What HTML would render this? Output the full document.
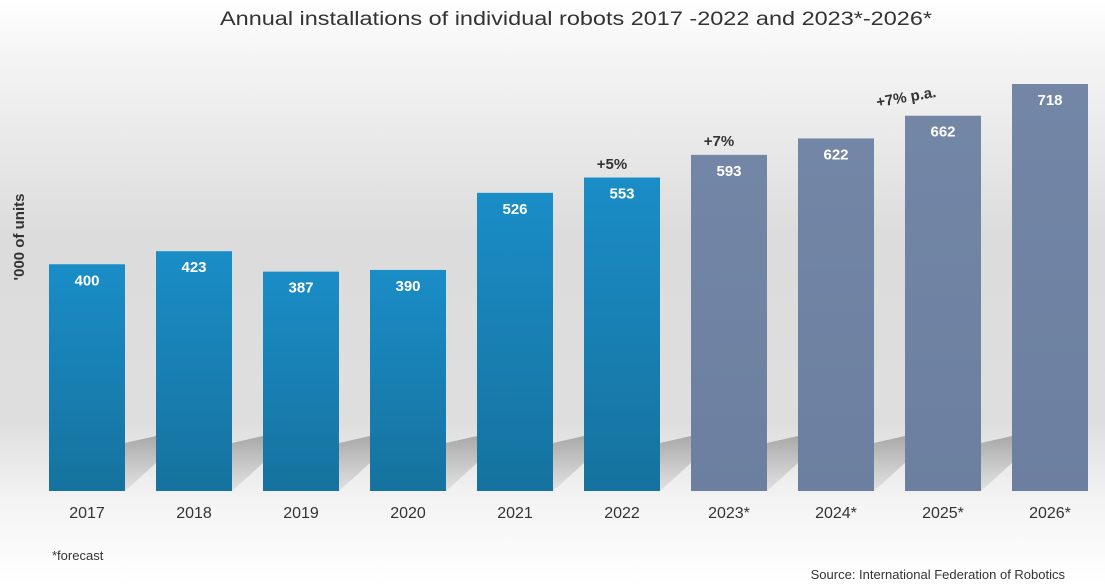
<!DOCTYPE html>
<html><head><meta charset="utf-8"><style>
body{margin:0;width:1105px;height:585px;overflow:hidden;font-family:"Liberation Sans",sans-serif}
svg{display:block}
</style></head><body>
<svg id="chart" width="1105" height="585" viewBox="0 0 1105 585">
<defs>
<linearGradient id="bg" x1="0" y1="0" x2="0" y2="1">
<stop offset="0" stop-color="#ffffff"/><stop offset="0.08" stop-color="#f6f6f6"/><stop offset="0.4" stop-color="#dcdcdc"/><stop offset="0.72" stop-color="#dedede"/><stop offset="0.86" stop-color="#f4f4f4"/><stop offset="1" stop-color="#ffffff"/>
</linearGradient>
<linearGradient id="blue" x1="0" y1="0" x2="0" y2="1"><stop offset="0" stop-color="#1a8dc7"/><stop offset="1" stop-color="#16729e"/></linearGradient>
<linearGradient id="grey" x1="0" y1="0" x2="0" y2="1"><stop offset="0" stop-color="#7386a6"/><stop offset="1" stop-color="#6c7fa0"/></linearGradient>
<linearGradient id="sh" x1="0" y1="0" x2="0" y2="1"><stop offset="0" stop-color="#999" stop-opacity="0.8"/><stop offset="1" stop-color="#bbb" stop-opacity="0.3"/></linearGradient>
</defs>
<rect x="0" y="0" width="1105" height="585" fill="url(#bg)"/>
<text x="576" y="25" text-anchor="middle" font-size="19" fill="#333" textLength="712" lengthAdjust="spacingAndGlyphs">Annual installations of individual robots 2017 -2022 and 2023*-2026*</text>
<text transform="translate(24,237) rotate(-90)" text-anchor="middle" font-size="15" font-weight="bold" fill="#333">'000 of units</text>
<g id="shadows"></g>
<g id="bars"></g>
<text x="612" y="169" text-anchor="middle" font-size="15" font-weight="bold" fill="#333">+5%</text>
<text x="719" y="146" text-anchor="middle" font-size="15" font-weight="bold" fill="#333">+7%</text>
<text transform="translate(907,102) rotate(-10)" text-anchor="middle" font-size="15" font-weight="bold" fill="#333">+7% p.a.</text>
<text x="52" y="560" font-size="13" fill="#333">*forecast</text>
<text x="1065" y="579" text-anchor="end" font-size="13" fill="#333">Source: International Federation of Robotics</text>
</svg>
<script>
const categories=["2017","2018","2019","2020","2021","2022","2023*","2024*","2025*","2026*"];
const values=[400,423,387,390,526,553,593,622,662,718];
const forecast=[false,false,false,false,false,false,true,true,true,true];
const NS="http://www.w3.org/2000/svg";
const base=491, scale=407/718, x0=49, step=107, bw=76;
function xPos(i){return x0+i*step;}
function yPos(v){return base-v*scale;}
const bars=document.getElementById('bars'), shadows=document.getElementById('shadows');
function mk(t,a){const e=document.createElementNS(NS,t);for(const k in a)e.setAttribute(k,a[k]);return e;}
categories.forEach((c,i)=>{
  const x=xPos(i), y=yPos(values[i]), R=x+bw;
  if(i<categories.length-1){
    const s=mk('polygon',{points:`${R},${base} ${R},${base-48} ${R+31},${base-55} ${R+31},${base-28}`,fill:'url(#sh)'});
    
    
    shadows.appendChild(s);
  }
  const r=mk('rect',{x:x,y:y,width:bw,height:base-y,fill:forecast[i]?'url(#grey)':'url(#blue)'});
  
  
  bars.appendChild(r);
  const t=mk('text',{x:x+bw/2,y:y+21,'text-anchor':'middle','font-size':'15','font-weight':'bold',fill:'#fff'});
  t.textContent=values[i];
  
  
  bars.appendChild(t);
  const l=mk('text',{x:x+bw/2,y:518,'text-anchor':'middle','font-size':'16',fill:'#333'});
  l.textContent=c;
  
  
  bars.appendChild(l);
});
</script>
</body></html>
